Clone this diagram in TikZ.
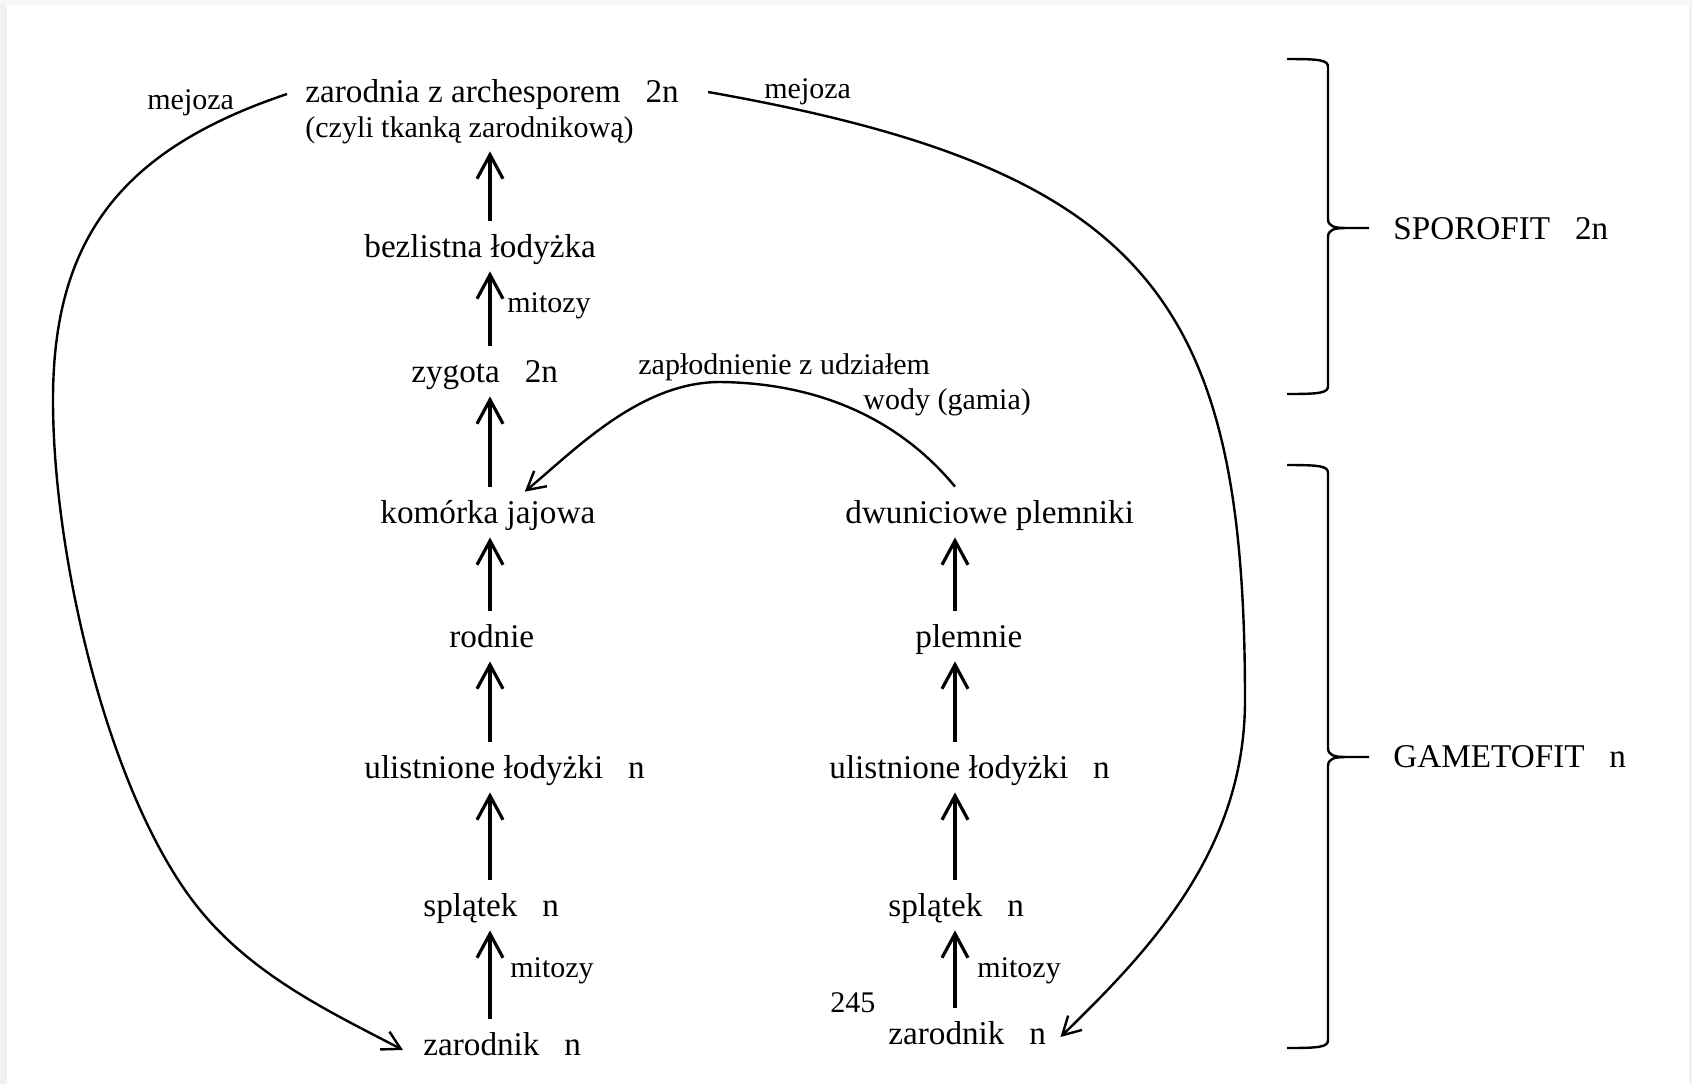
\documentclass[tikz,border=0pt]{standalone}
\usepackage{fontspec}
\setmainfont{Liberation Serif}
\usetikzlibrary{arrows.meta}
\begin{document}
\begin{tikzpicture}[x=0.5pt,y=-0.5pt,
  lbl/.style={inner sep=0pt, anchor=base west, text height=18pt, text depth=7pt, font=\fontsize{16.6}{19}\selectfont},
  note/.style={inner sep=0pt, anchor=base west, font=\fontsize{15}{18}\selectfont},
  side/.style={inner sep=0pt, anchor=base west, font=\fontsize{16.6}{19}\selectfont},
  up/.style={line width=1.6pt, -{Straight Barb[length=12pt,width=13pt]}},
  curve/.style={line width=1.2pt, -{Straight Barb[length=9pt,width=10pt]}},
  brace/.style={line width=1.2pt}]
\useasboundingbox (0,0) rectangle (1692,1084);
\fill[white] (0,0) rectangle (1692,1084);
\fill[gray!12] (0,0) rectangle (7,1084);
\fill[gray!12] (1689,0) rectangle (1692,1084);
\fill[gray!6] (0,0) rectangle (1692,5);

\coordinate (colL) at (490,0);
\coordinate (colR) at (955,0);

% left column
\node[lbl] (zar1) at (305,102) {zarodnia z archesporem~~~2n};
\node[lbl, font=\fontsize{15}{18}\selectfont] (zar2) at (305,137) {(czyli tkanką zarodnikową)};
\node[lbl] (bez) at (364,257) {bezlistna łodyżka};
\node[note] (mit1) at (507,312) {mitozy};
\node[lbl] (zyg) at (411,382) {zygota~~~2n};
\node[lbl] (kom) at (380,523) {komórka jajowa};
\node[lbl] (rod) at (449,647) {rodnie};
\node[lbl] (uliL) at (364,778) {ulistnione łodyżki~~~n};
\node[lbl] (splL) at (423,916) {splątek~~~n};
\node[note] (mit2) at (510,977) {mitozy};
\node[lbl] (zarL) at (423,1055) {zarodnik~~~n};

% right column
\node[lbl] (dwu) at (845,523) {dwuniciowe plemniki};
\node[lbl] (plem) at (915,647) {plemnie};
\node[lbl] (uliR) at (829,778) {ulistnione łodyżki~~~n};
\node[lbl] (splR) at (888,916) {splątek~~~n};
\node[note] (mit3) at (977,977) {mitozy};
\node[lbl] (zarR) at (888,1044) {zarodnik~~~n};

% other labels
\node[note] (page) at (830,1012) {245};
\node[note] (mejL) at (147,109) {mejoza};
\node[note] (mejR) at (764,98) {mejoza};
\node[note] (zap1) at (638,374) {zapłodnienie z udziałem};
\node[note] (zap2) at (863,409) {wody (gamia)};
\node[side] (spo) at (1393,239) {SPOROFIT~~~2n};
\node[side] (gam) at (1393,767) {GAMETOFIT~~~n};

% vertical arrows
\draw[up] (colL |- bez.north) -- (colL |- zar2.south);
\draw[up] (colL |- zyg.north) -- (colL |- bez.south);
\draw[up] (colL |- kom.north) -- (colL |- zyg.south);
\draw[up] (colL |- rod.north) -- (colL |- kom.south);
\draw[up] (colL |- uliL.north) -- (colL |- rod.south);
\draw[up] (colL |- splL.north) -- (colL |- uliL.south);
\draw[up] (colL |- zarL.north) -- (colL |- splL.south);
\draw[up] (colR |- plem.north) -- (colR |- dwu.south);
\draw[up] (colR |- uliR.north) -- (colR |- plem.south);
\draw[up] (colR |- splR.north) -- (colR |- uliR.south);
\draw[up] (colR |- zarR.north) -- (colR |- splR.south);

% fertilisation
\draw[curve] (colR |- dwu.north) .. controls (900,420) and (820,383) .. (720,382)
  .. controls (640,382) and (575,450) .. ([xshift=18.5pt,yshift=-2.5pt]kom.north);

% meiosis curves
\draw[curve] ([xshift=-9pt,yshift=-1.5pt]zar1.west) .. controls (120,150) and (53,240) .. (53,400)
  .. controls (53,560) and (110,800) .. (200,910)
  .. controls (254,976) and (330,1012) .. ([xshift=-10pt,yshift=-3pt]zarL.west);
\draw[curve] ([xshift=14.5pt,yshift=-0.5pt]zar1.east) .. controls (1150,170) and (1245,300) .. (1245,700)
  .. controls (1245,850) and (1150,950) .. ([xshift=7pt,yshift=-2pt]zarR.east);

% braces
\draw[brace] (1287,59) .. controls (1320,59) and (1328,60) .. (1328,67) -- (1328,219)
  .. controls (1328,226) and (1334,228) .. (1345,228) -- (1369,228);
\draw[brace] (1345,228) .. controls (1334,228) and (1328,230) .. (1328,237) -- (1328,386)
  .. controls (1328,393) and (1320,394) .. (1287,394);
\draw[brace] (1287,465) .. controls (1320,465) and (1328,466) .. (1328,473) -- (1328,748)
  .. controls (1328,755) and (1334,757) .. (1345,757) -- (1369,757);
\draw[brace] (1345,757) .. controls (1334,757) and (1328,759) .. (1328,766) -- (1328,1040)
  .. controls (1328,1047) and (1320,1048) .. (1287,1048);
\end{tikzpicture}
\end{document}
